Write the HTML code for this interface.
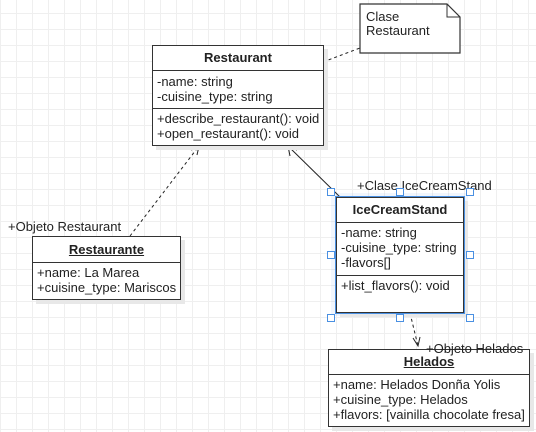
<!DOCTYPE html>
<html><head><style>
body{margin:0;width:536px;height:432px;overflow:hidden;background:#fff;
background-image:linear-gradient(#efefef 1px,transparent 1px),linear-gradient(90deg,#efefef 1px,transparent 1px);
background-size:16px 16px;background-position:0 13px,0 0;font-family:"Liberation Sans",sans-serif;font-size:13px;color:#222}
.b{position:absolute;border:1.5px solid #333;background:#fff;box-shadow:4px 4px 0 #e8e8e8;box-sizing:border-box}
.h{font-weight:bold;text-align:center;border-bottom:1.5px solid #333;box-sizing:border-box}
.s{padding:1px 4px;line-height:15px;box-sizing:border-box;white-space:nowrap}
.l{position:absolute;font-size:13px;white-space:nowrap}
.hd{position:absolute;width:6px;height:6px;border:1px solid #4a90e2;background:#fff}
</style></head><body>
<svg width="536" height="432" style="position:absolute;left:0;top:0">
<path d="M360 4 H447 L460 17 V53 H360 Z" fill="#fff" stroke="#333" stroke-width="1.2"/>
<path d="M447 4 V17 H460" fill="none" stroke="#333"/>
<line x1="323" y1="62" x2="360" y2="48" stroke="#222" stroke-dasharray="3,3"/>
<line x1="130" y1="236" x2="199" y2="146" stroke="#222" stroke-dasharray="3,3"/>
<path d="M191 150 L199 146 L197 155" fill="none" stroke="#222"/>
<line x1="340" y1="197" x2="288" y2="146" stroke="#222"/>
<path d="M290 156 L288 146 L297 150" fill="none" stroke="#222"/>
<line x1="410" y1="313" x2="418" y2="346" stroke="#222" stroke-dasharray="3,3"/>
<path d="M413 338 L418 346 L420 337" fill="none" stroke="#222"/>
</svg>
<div class="l" style="left:366px;top:10px;line-height:14px">Clase<br>Restaurant</div>
<div class="b" style="left:152px;top:45px;width:172px;height:101px">
<div class="h" style="height:25px;line-height:24px">Restaurant</div>
<div class="s" style="height:38px;border-bottom:1.5px solid #333;padding-top:3px">-name: string<br>-cuisine_type: string</div>
<div class="s" style="padding-top:2px">+describe_restaurant(): void<br>+open_restaurant(): void</div></div>
<div class="l" style="left:8px;top:219px">+Objeto Restaurant</div>
<div class="b" style="left:32px;top:236px;width:149px;height:64px">
<div class="h" style="height:26px;line-height:25px;text-decoration:underline">Restaurante</div>
<div class="s" style="padding-top:2px">+name: La Marea<br>+cuisine_type: Mariscos</div></div>
<div style="position:absolute;left:331px;top:193px;width:137px;height:123px;background:rgba(74,144,226,0.08)"></div>
<div class="l" style="left:357px;top:178px">+Clase IceCreamStand</div>
<div class="b" style="left:336px;top:197px;width:128px;height:116px">
<div class="h" style="height:25px;line-height:24px">IceCreamStand</div>
<div class="s" style="height:53px;border-bottom:1.5px solid #333;padding-top:2px">-name: string<br>-cuisine_type: string<br>-flavors[]</div>
<div class="s" style="padding-top:2px">+list_flavors(): void</div></div>
<div style="position:absolute;left:335px;top:196px;width:130px;height:118px;border:1px solid #4a90e2;box-sizing:border-box"></div>
<div class="hd" style="left:327px;top:188px"></div><div class="hd" style="left:396px;top:188px"></div><div class="hd" style="left:466px;top:188px"></div>
<div class="hd" style="left:327px;top:251px"></div><div class="hd" style="left:466px;top:251px"></div>
<div class="hd" style="left:327px;top:314px"></div><div class="hd" style="left:396px;top:314px"></div><div class="hd" style="left:466px;top:314px"></div>
<div class="b" style="left:328px;top:349px;width:202px;height:78px">
<div class="h" style="height:25px;line-height:24px;text-decoration:underline">Helados</div>
<div class="s" style="padding-top:2px">+name: Helados Donña Yolis<br>+cuisine_type: Helados<br>+flavors: [vainilla chocolate fresa]</div></div>
<div class="l" style="left:426px;top:341px">+Objeto Helados</div>
</body></html>
